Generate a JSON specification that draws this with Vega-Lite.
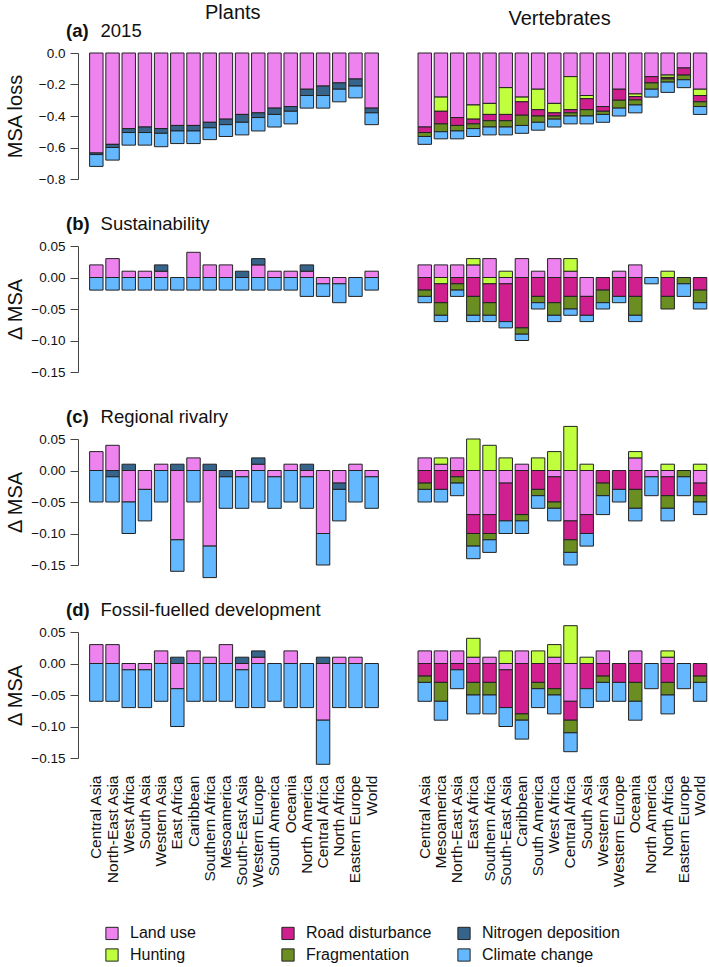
{
"$schema": "https://vega.github.io/schema/vega-lite/v6.json",
"background": "white",
"padding": {"left": 5, "top": 2, "right": 0, "bottom": 5},
"config": {
  "font": "Liberation Sans",
  "view": {"stroke": null},
  "axis": {"labelFont": "Liberation Sans", "labelFontSize": 13.5, "labelColor": "#111", "titleFont": "Liberation Sans", "titleFontSize": 20, "titleFontWeight": "normal", "titleColor": "#111", "domainColor": "#444", "tickColor": "#444", "grid": false, "tickSize": 8, "labelPadding": 5},
  "axisY": {"offset": 10, "titleX": -53},
  "title": {"font": "Liberation Sans", "fontSize": 18.5, "color": "#111", "anchor": "start", "frame": "group"},
  "legend": {"orient": "none", "legendX": 16, "legendY": 872, "columns": 3, "gridAlign": "all", "columnPadding": 11, "rowPadding": 4, "symbolType": "square", "symbolSize": 150, "symbolStrokeColor": "#222", "symbolStrokeWidth": 1, "symbolOpacity": 1, "labelFont": "Liberation Sans", "labelFontSize": 16, "labelColor": "#111", "labelOffset": 10, "padding": 0}
},
"data": {"values": [
{"p":"a","g":"P","r":"Central Asia","L":-0.635,"N":-0.01,"C":-0.075},
{"p":"a","g":"P","r":"North-East Asia","L":-0.58,"N":-0.02,"C":-0.08},
{"p":"a","g":"P","r":"West Africa","L":-0.48,"N":-0.025,"C":-0.08},
{"p":"a","g":"P","r":"South Asia","L":-0.47,"N":-0.035,"C":-0.08},
{"p":"a","g":"P","r":"Western Asia","L":-0.48,"N":-0.03,"C":-0.085},
{"p":"a","g":"P","r":"East Africa","L":-0.46,"N":-0.035,"C":-0.08},
{"p":"a","g":"P","r":"Caribbean","L":-0.46,"N":-0.035,"C":-0.08},
{"p":"a","g":"P","r":"Southern Africa","L":-0.44,"N":-0.035,"C":-0.075},
{"p":"a","g":"P","r":"Mesoamerica","L":-0.42,"N":-0.035,"C":-0.075},
{"p":"a","g":"P","r":"South-East Asia","L":-0.39,"N":-0.05,"C":-0.08},
{"p":"a","g":"P","r":"Western Europe","L":-0.38,"N":-0.03,"C":-0.085},
{"p":"a","g":"P","r":"South America","L":-0.35,"N":-0.04,"C":-0.08},
{"p":"a","g":"P","r":"Oceania","L":-0.34,"N":-0.03,"C":-0.08},
{"p":"a","g":"P","r":"North America","L":-0.23,"N":-0.04,"C":-0.08},
{"p":"a","g":"P","r":"Central Africa","L":-0.21,"N":-0.06,"C":-0.08},
{"p":"a","g":"P","r":"North Africa","L":-0.19,"N":-0.04,"C":-0.08},
{"p":"a","g":"P","r":"Eastern Europe","L":-0.165,"N":-0.045,"C":-0.075},
{"p":"a","g":"P","r":"World","L":-0.35,"N":-0.03,"C":-0.075},
{"p":"a","g":"V","r":"Central Asia","L":-0.47,"R":-0.035,"F":-0.025,"C":-0.05},
{"p":"a","g":"V","r":"Mesoamerica","L":-0.28,"H":-0.09,"R":-0.08,"F":-0.05,"C":-0.045},
{"p":"a","g":"V","r":"North-East Asia","L":-0.41,"R":-0.05,"F":-0.035,"C":-0.05},
{"p":"a","g":"V","r":"East Africa","L":-0.33,"H":-0.09,"R":-0.03,"F":-0.03,"C":-0.05},
{"p":"a","g":"V","r":"Southern Africa","L":-0.32,"H":-0.07,"R":-0.04,"F":-0.04,"C":-0.05},
{"p":"a","g":"V","r":"South-East Asia","L":-0.22,"H":-0.17,"R":-0.04,"F":-0.04,"C":-0.05},
{"p":"a","g":"V","r":"Caribbean","L":-0.28,"H":-0.03,"R":-0.085,"F":-0.065,"C":-0.05},
{"p":"a","g":"V","r":"South America","L":-0.23,"H":-0.13,"R":-0.04,"F":-0.04,"C":-0.05},
{"p":"a","g":"V","r":"West Africa","L":-0.32,"H":-0.06,"R":-0.02,"F":-0.02,"C":-0.05},
{"p":"a","g":"V","r":"Central Africa","L":-0.15,"H":-0.21,"R":-0.02,"F":-0.02,"C":-0.05},
{"p":"a","g":"V","r":"South Asia","L":-0.27,"H":-0.02,"R":-0.07,"F":-0.04,"C":-0.05},
{"p":"a","g":"V","r":"Western Asia","L":-0.34,"R":-0.03,"F":-0.02,"C":-0.05},
{"p":"a","g":"V","r":"Western Europe","L":-0.23,"R":-0.07,"F":-0.05,"C":-0.05},
{"p":"a","g":"V","r":"Oceania","L":-0.26,"H":-0.017,"R":-0.021,"F":-0.032,"C":-0.05},
{"p":"a","g":"V","r":"North America","L":-0.15,"R":-0.04,"F":-0.04,"C":-0.05},
{"p":"a","g":"V","r":"North Africa","L":-0.14,"H":-0.015,"R":-0.01,"F":-0.02,"C":-0.065},
{"p":"a","g":"V","r":"Eastern Europe","L":-0.095,"R":-0.045,"F":-0.03,"C":-0.05},
{"p":"a","g":"V","r":"World","L":-0.23,"H":-0.04,"R":-0.04,"F":-0.03,"C":-0.05},
{"p":"b","g":"P","r":"Central Asia","L":0.02,"C":-0.02},
{"p":"b","g":"P","r":"North-East Asia","L":0.03,"C":-0.02},
{"p":"b","g":"P","r":"West Africa","L":0.01,"C":-0.02},
{"p":"b","g":"P","r":"South Asia","L":0.01,"C":-0.02},
{"p":"b","g":"P","r":"Western Asia","L":0.01,"N":0.01,"C":-0.02},
{"p":"b","g":"P","r":"East Africa","C":-0.02},
{"p":"b","g":"P","r":"Caribbean","L":0.04,"C":-0.02},
{"p":"b","g":"P","r":"Southern Africa","L":0.02,"C":-0.02},
{"p":"b","g":"P","r":"Mesoamerica","L":0.02,"C":-0.02},
{"p":"b","g":"P","r":"South-East Asia","N":0.01,"C":-0.02},
{"p":"b","g":"P","r":"Western Europe","L":0.02,"N":0.01,"C":-0.02},
{"p":"b","g":"P","r":"South America","L":0.01,"C":-0.02},
{"p":"b","g":"P","r":"Oceania","L":0.01,"C":-0.02},
{"p":"b","g":"P","r":"North America","L":0.01,"N":0.01,"C":-0.03},
{"p":"b","g":"P","r":"Central Africa","L":-0.01,"C":-0.02},
{"p":"b","g":"P","r":"North Africa","L":-0.01,"C":-0.03},
{"p":"b","g":"P","r":"Eastern Europe","C":-0.03},
{"p":"b","g":"P","r":"World","L":0.01,"C":-0.02},
{"p":"b","g":"V","r":"Central Asia","L":0.02,"R":-0.02,"F":-0.01,"C":-0.01},
{"p":"b","g":"V","r":"Mesoamerica","L":0.02,"H":-0.01,"R":-0.03,"F":-0.02,"C":-0.01},
{"p":"b","g":"V","r":"North-East Asia","L":0.02,"R":-0.01,"F":-0.01,"C":-0.01},
{"p":"b","g":"V","r":"East Africa","L":0.02,"H":0.01,"R":-0.03,"F":-0.03,"C":-0.01},
{"p":"b","g":"V","r":"Southern Africa","L":0.03,"H":-0.01,"R":-0.03,"F":-0.02,"C":-0.01},
{"p":"b","g":"V","r":"South-East Asia","H":0.01,"L":-0.01,"R":-0.06,"C":-0.01},
{"p":"b","g":"V","r":"Caribbean","L":0.03,"R":-0.08,"F":-0.01,"C":-0.01},
{"p":"b","g":"V","r":"South America","L":0.01,"R":-0.03,"F":-0.01,"C":-0.01},
{"p":"b","g":"V","r":"West Africa","L":0.03,"R":-0.04,"F":-0.02,"C":-0.01},
{"p":"b","g":"V","r":"Central Africa","L":0.01,"H":0.02,"R":-0.03,"F":-0.02,"C":-0.01},
{"p":"b","g":"V","r":"South Asia","L":-0.03,"R":-0.03,"C":-0.01},
{"p":"b","g":"V","r":"Western Asia","R":-0.02,"F":-0.02,"C":-0.01},
{"p":"b","g":"V","r":"Western Europe","L":0.01,"R":-0.03,"C":-0.01},
{"p":"b","g":"V","r":"Oceania","L":0.02,"R":-0.03,"F":-0.03,"C":-0.01},
{"p":"b","g":"V","r":"North America","C":-0.01},
{"p":"b","g":"V","r":"North Africa","H":0.01,"R":-0.03,"F":-0.02},
{"p":"b","g":"V","r":"Eastern Europe","F":-0.01,"C":-0.02},
{"p":"b","g":"V","r":"World","R":-0.02,"F":-0.02,"C":-0.01},
{"p":"c","g":"P","r":"Central Asia","L":0.03,"C":-0.05},
{"p":"c","g":"P","r":"North-East Asia","L":0.04,"N":-0.01,"C":-0.04},
{"p":"c","g":"P","r":"West Africa","N":0.01,"L":-0.05,"C":-0.05},
{"p":"c","g":"P","r":"South Asia","L":-0.03,"C":-0.05},
{"p":"c","g":"P","r":"Western Asia","L":0.01,"C":-0.05},
{"p":"c","g":"P","r":"East Africa","N":0.01,"L":-0.11,"C":-0.05},
{"p":"c","g":"P","r":"Caribbean","L":0.02,"C":-0.05},
{"p":"c","g":"P","r":"Southern Africa","N":0.01,"L":-0.12,"C":-0.05},
{"p":"c","g":"P","r":"Mesoamerica","N":-0.01,"C":-0.05},
{"p":"c","g":"P","r":"South-East Asia","L":-0.01,"C":-0.05},
{"p":"c","g":"P","r":"Western Europe","L":0.01,"N":0.01,"C":-0.05},
{"p":"c","g":"P","r":"South America","L":-0.01,"C":-0.05},
{"p":"c","g":"P","r":"Oceania","L":0.01,"C":-0.05},
{"p":"c","g":"P","r":"North America","N":0.01,"L":-0.01,"C":-0.05},
{"p":"c","g":"P","r":"Central Africa","L":-0.10,"C":-0.05},
{"p":"c","g":"P","r":"North Africa","L":-0.02,"N":-0.01,"C":-0.05},
{"p":"c","g":"P","r":"Eastern Europe","L":0.01,"C":-0.05},
{"p":"c","g":"P","r":"World","L":-0.01,"C":-0.05},
{"p":"c","g":"V","r":"Central Asia","L":0.02,"R":-0.02,"F":-0.01,"C":-0.02},
{"p":"c","g":"V","r":"Mesoamerica","L":0.01,"H":0.01,"R":-0.03,"C":-0.02},
{"p":"c","g":"V","r":"North-East Asia","L":0.02,"R":-0.01,"F":-0.01,"C":-0.02},
{"p":"c","g":"V","r":"East Africa","H":0.05,"L":-0.07,"R":-0.03,"F":-0.02,"C":-0.02},
{"p":"c","g":"V","r":"Southern Africa","H":0.04,"L":-0.07,"R":-0.03,"F":-0.01,"C":-0.02},
{"p":"c","g":"V","r":"South-East Asia","H":0.02,"L":-0.02,"R":-0.06,"C":-0.02},
{"p":"c","g":"V","r":"Caribbean","L":0.01,"R":-0.07,"F":-0.01,"C":-0.02},
{"p":"c","g":"V","r":"South America","H":0.02,"R":-0.03,"F":-0.01,"C":-0.02},
{"p":"c","g":"V","r":"West Africa","H":0.03,"L":-0.01,"R":-0.04,"F":-0.01,"C":-0.02},
{"p":"c","g":"V","r":"Central Africa","H":0.07,"L":-0.08,"R":-0.03,"F":-0.02,"C":-0.02},
{"p":"c","g":"V","r":"South Asia","H":0.01,"L":-0.07,"R":-0.03,"C":-0.02},
{"p":"c","g":"V","r":"Western Asia","R":-0.02,"F":-0.02,"C":-0.03},
{"p":"c","g":"V","r":"Western Europe","R":-0.03,"C":-0.02},
{"p":"c","g":"V","r":"Oceania","L":0.02,"H":0.01,"R":-0.03,"F":-0.03,"C":-0.02},
{"p":"c","g":"V","r":"North America","L":-0.01,"C":-0.03},
{"p":"c","g":"V","r":"North Africa","H":0.01,"L":-0.01,"R":-0.03,"F":-0.02,"C":-0.02},
{"p":"c","g":"V","r":"Eastern Europe","F":-0.01,"C":-0.03},
{"p":"c","g":"V","r":"World","H":0.01,"L":-0.02,"R":-0.02,"F":-0.01,"C":-0.02},
{"p":"d","g":"P","r":"Central Asia","L":0.03,"C":-0.06},
{"p":"d","g":"P","r":"North-East Asia","L":0.03,"C":-0.06},
{"p":"d","g":"P","r":"West Africa","L":-0.01,"C":-0.06},
{"p":"d","g":"P","r":"South Asia","L":-0.01,"C":-0.06},
{"p":"d","g":"P","r":"Western Asia","L":0.02,"C":-0.06},
{"p":"d","g":"P","r":"East Africa","N":0.01,"L":-0.04,"C":-0.06},
{"p":"d","g":"P","r":"Caribbean","L":0.02,"C":-0.06},
{"p":"d","g":"P","r":"Southern Africa","L":0.01,"C":-0.06},
{"p":"d","g":"P","r":"Mesoamerica","L":0.03,"C":-0.06},
{"p":"d","g":"P","r":"South-East Asia","N":0.01,"L":-0.01,"C":-0.06},
{"p":"d","g":"P","r":"Western Europe","L":0.01,"N":0.01,"C":-0.07},
{"p":"d","g":"P","r":"South America","C":-0.06},
{"p":"d","g":"P","r":"Oceania","L":0.02,"C":-0.07},
{"p":"d","g":"P","r":"North America","C":-0.07},
{"p":"d","g":"P","r":"Central Africa","N":0.01,"L":-0.09,"C":-0.07},
{"p":"d","g":"P","r":"North Africa","L":0.01,"C":-0.07},
{"p":"d","g":"P","r":"Eastern Europe","L":0.01,"C":-0.07},
{"p":"d","g":"P","r":"World","C":-0.07},
{"p":"d","g":"V","r":"Central Asia","L":0.02,"R":-0.02,"F":-0.01,"C":-0.03},
{"p":"d","g":"V","r":"Mesoamerica","L":0.02,"R":-0.03,"F":-0.03,"C":-0.03},
{"p":"d","g":"V","r":"North-East Asia","L":0.02,"R":-0.01,"C":-0.03},
{"p":"d","g":"V","r":"East Africa","L":0.01,"H":0.03,"R":-0.03,"F":-0.02,"C":-0.03},
{"p":"d","g":"V","r":"Southern Africa","L":0.01,"R":-0.03,"F":-0.02,"C":-0.03},
{"p":"d","g":"V","r":"South-East Asia","H":0.02,"L":-0.01,"R":-0.06,"C":-0.03},
{"p":"d","g":"V","r":"Caribbean","L":0.02,"R":-0.08,"F":-0.01,"C":-0.03},
{"p":"d","g":"V","r":"South America","H":0.02,"R":-0.03,"F":-0.01,"C":-0.03},
{"p":"d","g":"V","r":"West Africa","L":0.01,"H":0.02,"R":-0.04,"F":-0.01,"C":-0.03},
{"p":"d","g":"V","r":"Central Africa","H":0.06,"L":-0.06,"R":-0.03,"F":-0.02,"C":-0.03},
{"p":"d","g":"V","r":"South Asia","H":0.01,"R":-0.04,"C":-0.03},
{"p":"d","g":"V","r":"Western Asia","L":0.02,"R":-0.02,"F":-0.01,"C":-0.03},
{"p":"d","g":"V","r":"Western Europe","R":-0.03,"C":-0.03},
{"p":"d","g":"V","r":"Oceania","L":0.02,"R":-0.03,"F":-0.03,"C":-0.03},
{"p":"d","g":"V","r":"North America","C":-0.04},
{"p":"d","g":"V","r":"North Africa","L":0.01,"H":0.01,"R":-0.03,"F":-0.02,"C":-0.03},
{"p":"d","g":"V","r":"Eastern Europe","C":-0.04},
{"p":"d","g":"V","r":"World","R":-0.02,"F":-0.01,"C":-0.03}
]},
"transform": [
  {"fold": ["L","H","R","F","N","C"], "as": ["k","v"]},
  {"filter": "isValid(datum.v)"},
  {"lookup": "k", "from": {"data": {"values": [
    {"k":"L","name":"Land use","o":1},
    {"k":"H","name":"Hunting","o":2},
    {"k":"R","name":"Road disturbance","o":3},
    {"k":"F","name":"Fragmentation","o":4},
    {"k":"N","name":"Nitrogen deposition","o":5},
    {"k":"C","name":"Climate change","o":6}
  ]}, "key": "k", "fields": ["name","o"]}}
],
"spacing": 36.4,
"hconcat": [
 {"title": {"text": "Plants", "anchor": "start", "dx": 117, "fontSize": 20, "fontWeight": "normal", "offset": -1},
  "bounds": "flush", "spacing": 67,
  "vconcat": [
   {"width": 292, "height": 126,
    "title": {"text": "(a)", "subtitle": "\u200b\u00a0\u00a0\u00a0\u00a0\u00a0\u00a0\u20092015", "fontWeight": "bold", "subtitleFont": "Liberation Sans", "subtitleFontSize": 18.5, "subtitleFontWeight": "normal", "subtitleColor": "#111", "subtitlePadding": -18.5, "dx": -22, "offset": 6},
    "transform": [{"filter": "datum.p=='a' && datum.g=='P'"}],
    "mark": {"type": "bar", "stroke": "#222", "strokeWidth": 1},
    "encoding": {
      "x": {"field": "r", "type": "nominal", "scale": {"domain": ["Central Asia","North-East Asia","West Africa","South Asia","Western Asia","East Africa","Caribbean","Southern Africa","Mesoamerica","South-East Asia","Western Europe","South America","Oceania","North America","Central Africa","North Africa","Eastern Europe","World"], "paddingInner": 0.17, "paddingOuter": 0.1}, "axis": null},
      "y": {"field": "v", "type": "quantitative", "stack": "zero", "scale": {"domain": [-0.8, 0], "nice": false, "zero": false}, "axis": {"title": "MSA loss", "values": [0, -0.2, -0.4, -0.6, -0.8], "format": ".1f"}},
      "color": {"field": "name", "type": "nominal", "scale": {"domain": ["Land use","Hunting","Road disturbance","Fragmentation","Nitrogen deposition","Climate change"], "range": ["#EE82EE","#C0FF3E","#D02090","#6B8E23","#36648B","#63B8FF"]}, "legend": {"title": null}},
      "order": {"field": "o", "type": "quantitative"}
    }},
   {"width": 292, "height": 126,
    "title": {"text": "(b)", "subtitle": "\u200b\u00a0\u00a0\u00a0\u00a0\u00a0\u00a0\u2009Sustainability", "fontWeight": "bold", "subtitleFont": "Liberation Sans", "subtitleFontSize": 18.5, "subtitleFontWeight": "normal", "subtitleColor": "#111", "subtitlePadding": -18.5, "dx": -22, "offset": 6},
    "transform": [{"filter": "datum.p=='b' && datum.g=='P'"}],
    "mark": {"type": "bar", "stroke": "#222", "strokeWidth": 1},
    "encoding": {
      "x": {"field": "r", "type": "nominal", "scale": {"domain": ["Central Asia","North-East Asia","West Africa","South Asia","Western Asia","East Africa","Caribbean","Southern Africa","Mesoamerica","South-East Asia","Western Europe","South America","Oceania","North America","Central Africa","North Africa","Eastern Europe","World"], "paddingInner": 0.17, "paddingOuter": 0.1}, "axis": null},
      "y": {"field": "v", "type": "quantitative", "stack": "zero", "scale": {"domain": [-0.15, 0.05], "nice": false, "zero": false}, "axis": {"title": "Δ MSA", "values": [0.05, 0, -0.05, -0.1, -0.15], "format": ".2f"}},
      "color": {"field": "name", "type": "nominal", "scale": {"domain": ["Land use","Hunting","Road disturbance","Fragmentation","Nitrogen deposition","Climate change"], "range": ["#EE82EE","#C0FF3E","#D02090","#6B8E23","#36648B","#63B8FF"]}, "legend": {"title": null}},
      "order": {"field": "o", "type": "quantitative"}
    }},
   {"width": 292, "height": 126,
    "title": {"text": "(c)", "subtitle": "\u200b\u00a0\u00a0\u00a0\u00a0\u00a0\u00a0\u2009Regional rivalry", "fontWeight": "bold", "subtitleFont": "Liberation Sans", "subtitleFontSize": 18.5, "subtitleFontWeight": "normal", "subtitleColor": "#111", "subtitlePadding": -18.5, "dx": -22, "offset": 6},
    "transform": [{"filter": "datum.p=='c' && datum.g=='P'"}],
    "mark": {"type": "bar", "stroke": "#222", "strokeWidth": 1},
    "encoding": {
      "x": {"field": "r", "type": "nominal", "scale": {"domain": ["Central Asia","North-East Asia","West Africa","South Asia","Western Asia","East Africa","Caribbean","Southern Africa","Mesoamerica","South-East Asia","Western Europe","South America","Oceania","North America","Central Africa","North Africa","Eastern Europe","World"], "paddingInner": 0.17, "paddingOuter": 0.1}, "axis": null},
      "y": {"field": "v", "type": "quantitative", "stack": "zero", "scale": {"domain": [-0.15, 0.05], "nice": false, "zero": false}, "axis": {"title": "Δ MSA", "values": [0.05, 0, -0.05, -0.1, -0.15], "format": ".2f"}},
      "color": {"field": "name", "type": "nominal", "scale": {"domain": ["Land use","Hunting","Road disturbance","Fragmentation","Nitrogen deposition","Climate change"], "range": ["#EE82EE","#C0FF3E","#D02090","#6B8E23","#36648B","#63B8FF"]}, "legend": {"title": null}},
      "order": {"field": "o", "type": "quantitative"}
    }},
   {"width": 292, "height": 126,
    "title": {"text": "(d)", "subtitle": "\u200b\u00a0\u00a0\u00a0\u00a0\u00a0\u00a0\u2009Fossil-fuelled development", "fontWeight": "bold", "subtitleFont": "Liberation Sans", "subtitleFontSize": 18.5, "subtitleFontWeight": "normal", "subtitleColor": "#111", "subtitlePadding": -18.5, "dx": -22, "offset": 6},
    "transform": [{"filter": "datum.p=='d' && datum.g=='P'"}],
    "mark": {"type": "bar", "stroke": "#222", "strokeWidth": 1},
    "encoding": {
      "x": {"field": "r", "type": "nominal", "scale": {"domain": ["Central Asia","North-East Asia","West Africa","South Asia","Western Asia","East Africa","Caribbean","Southern Africa","Mesoamerica","South-East Asia","Western Europe","South America","Oceania","North America","Central Africa","North Africa","Eastern Europe","World"], "paddingInner": 0.17, "paddingOuter": 0.1}, "axis": {"title": null, "labelAngle": -90, "labelAlign": "right", "labelBaseline": "middle", "labelFontSize": 15.5, "ticks": false, "tickSize": 0, "domain": false, "labelPadding": 17, "labelOverlap": false, "labelFlush": false, "labelBound": false}},
      "y": {"field": "v", "type": "quantitative", "stack": "zero", "scale": {"domain": [-0.15, 0.05], "nice": false, "zero": false}, "axis": {"title": "Δ MSA", "values": [0.05, 0, -0.05, -0.1, -0.15], "format": ".2f"}},
      "color": {"field": "name", "type": "nominal", "scale": {"domain": ["Land use","Hunting","Road disturbance","Fragmentation","Nitrogen deposition","Climate change"], "range": ["#EE82EE","#C0FF3E","#D02090","#6B8E23","#36648B","#63B8FF"]}, "legend": {"title": null}},
      "order": {"field": "o", "type": "quantitative"}
    }}
  ]},
 {"title": {"text": "Vertebrates", "anchor": "start", "dx": 92, "fontSize": 20, "fontWeight": "normal", "offset": -1},
  "bounds": "flush", "spacing": 67,
  "vconcat": [
   {"width": 292, "height": 126,
    "title": {"text": "\u200b", "fontWeight": "bold", "offset": 6},
    "transform": [{"filter": "datum.p=='a' && datum.g=='V'"}],
    "mark": {"type": "bar", "stroke": "#222", "strokeWidth": 1},
    "encoding": {
      "x": {"field": "r", "type": "nominal", "scale": {"domain": ["Central Asia","Mesoamerica","North-East Asia","East Africa","Southern Africa","South-East Asia","Caribbean","South America","West Africa","Central Africa","South Asia","Western Asia","Western Europe","Oceania","North America","North Africa","Eastern Europe","World"], "paddingInner": 0.17, "paddingOuter": 0.1}, "axis": null},
      "y": {"field": "v", "type": "quantitative", "stack": "zero", "scale": {"domain": [-0.8, 0], "nice": false, "zero": false}, "axis": null},
      "color": {"field": "name", "type": "nominal", "scale": {"domain": ["Land use","Hunting","Road disturbance","Fragmentation","Nitrogen deposition","Climate change"], "range": ["#EE82EE","#C0FF3E","#D02090","#6B8E23","#36648B","#63B8FF"]}, "legend": {"title": null}},
      "order": {"field": "o", "type": "quantitative"}
    }},
   {"width": 292, "height": 126,
    "transform": [{"filter": "datum.p=='b' && datum.g=='V'"}],
    "mark": {"type": "bar", "stroke": "#222", "strokeWidth": 1},
    "encoding": {
      "x": {"field": "r", "type": "nominal", "scale": {"domain": ["Central Asia","Mesoamerica","North-East Asia","East Africa","Southern Africa","South-East Asia","Caribbean","South America","West Africa","Central Africa","South Asia","Western Asia","Western Europe","Oceania","North America","North Africa","Eastern Europe","World"], "paddingInner": 0.17, "paddingOuter": 0.1}, "axis": null},
      "y": {"field": "v", "type": "quantitative", "stack": "zero", "scale": {"domain": [-0.15, 0.05], "nice": false, "zero": false}, "axis": null},
      "color": {"field": "name", "type": "nominal", "scale": {"domain": ["Land use","Hunting","Road disturbance","Fragmentation","Nitrogen deposition","Climate change"], "range": ["#EE82EE","#C0FF3E","#D02090","#6B8E23","#36648B","#63B8FF"]}, "legend": {"title": null}},
      "order": {"field": "o", "type": "quantitative"}
    }},
   {"width": 292, "height": 126,
    "transform": [{"filter": "datum.p=='c' && datum.g=='V'"}],
    "mark": {"type": "bar", "stroke": "#222", "strokeWidth": 1},
    "encoding": {
      "x": {"field": "r", "type": "nominal", "scale": {"domain": ["Central Asia","Mesoamerica","North-East Asia","East Africa","Southern Africa","South-East Asia","Caribbean","South America","West Africa","Central Africa","South Asia","Western Asia","Western Europe","Oceania","North America","North Africa","Eastern Europe","World"], "paddingInner": 0.17, "paddingOuter": 0.1}, "axis": null},
      "y": {"field": "v", "type": "quantitative", "stack": "zero", "scale": {"domain": [-0.15, 0.05], "nice": false, "zero": false}, "axis": null},
      "color": {"field": "name", "type": "nominal", "scale": {"domain": ["Land use","Hunting","Road disturbance","Fragmentation","Nitrogen deposition","Climate change"], "range": ["#EE82EE","#C0FF3E","#D02090","#6B8E23","#36648B","#63B8FF"]}, "legend": {"title": null}},
      "order": {"field": "o", "type": "quantitative"}
    }},
   {"width": 292, "height": 126,
    "transform": [{"filter": "datum.p=='d' && datum.g=='V'"}],
    "mark": {"type": "bar", "stroke": "#222", "strokeWidth": 1},
    "encoding": {
      "x": {"field": "r", "type": "nominal", "scale": {"domain": ["Central Asia","Mesoamerica","North-East Asia","East Africa","Southern Africa","South-East Asia","Caribbean","South America","West Africa","Central Africa","South Asia","Western Asia","Western Europe","Oceania","North America","North Africa","Eastern Europe","World"], "paddingInner": 0.17, "paddingOuter": 0.1}, "axis": {"title": null, "labelAngle": -90, "labelAlign": "right", "labelBaseline": "middle", "labelFontSize": 15.5, "ticks": false, "tickSize": 0, "domain": false, "labelPadding": 17, "labelOverlap": false, "labelFlush": false, "labelBound": false}},
      "y": {"field": "v", "type": "quantitative", "stack": "zero", "scale": {"domain": [-0.15, 0.05], "nice": false, "zero": false}, "axis": null},
      "color": {"field": "name", "type": "nominal", "scale": {"domain": ["Land use","Hunting","Road disturbance","Fragmentation","Nitrogen deposition","Climate change"], "range": ["#EE82EE","#C0FF3E","#D02090","#6B8E23","#36648B","#63B8FF"]}, "legend": {"title": null}},
      "order": {"field": "o", "type": "quantitative"}
    }}
  ]}
]
}
